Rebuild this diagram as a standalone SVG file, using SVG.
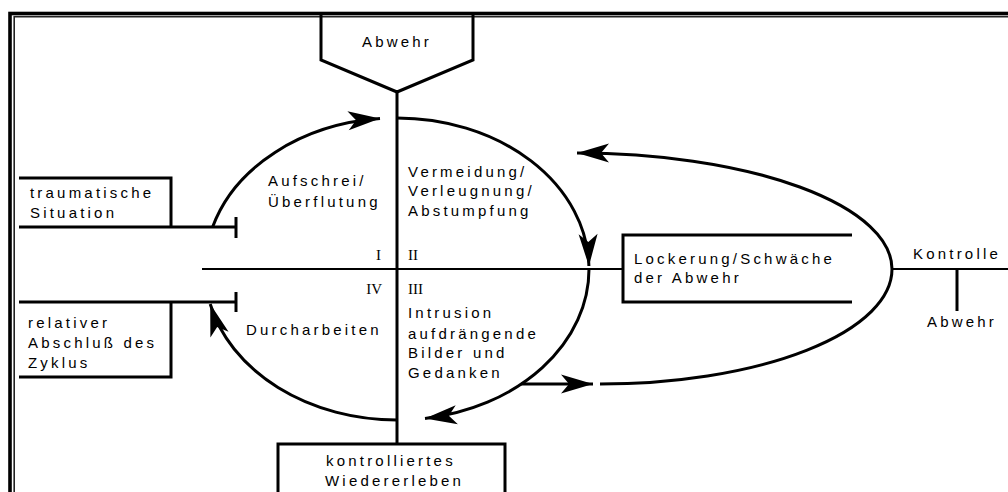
<svg xmlns="http://www.w3.org/2000/svg" width="1008" height="492" viewBox="0 0 1008 492">
  <style>
    .ln { fill: none; stroke: #000; stroke-width: 3; }
    .thin { fill: none; stroke: #000; stroke-width: 2.2; }
    .arr { marker-end: url(#head); }
    .lbl { font-family: "Liberation Sans", Arial, sans-serif; font-size: 15px; letter-spacing: 3.2px; fill: #000; }
    .num { font-family: "Liberation Serif", "Times New Roman", serif; font-size: 15px; fill: #000; }
  </style>
  <defs>
    <marker id="head" markerUnits="userSpaceOnUse" markerWidth="34" markerHeight="22" viewBox="0 0 34 22" refX="32" refY="11" orient="auto" overflow="visible">
      <path d="M32 11 L0 1.5 L8 11 L0 20.5 Z" fill="#000"/>
    </marker>
  </defs>

  <rect width="1008" height="492" fill="#fff"/>

  <!-- double frame, running off the right and bottom edges -->
  <g id="frame">
    <rect x="10" y="13.5" width="1020" height="500" fill="none" stroke="#000" stroke-width="3.6"/>
    <rect x="14.2" y="16.7" width="1010" height="490" fill="none" stroke="#222" stroke-width="1.6"/>
  </g>

  <!-- axes of the cycle -->
  <g id="axes">
    <path class="ln" d="M397 92 V444"/>
    <path class="thin" d="M202 269 H623"/>
  </g>

  <g id="abwehr-top">
    <path class="ln" d="M321 15 V60 L397 92 L473 60 V15"/>
    <text class="lbl" x="397" y="47" text-anchor="middle">Abwehr</text>
  </g>

  <g id="traumatische-situation">
    <path class="ln" d="M19 178 H171 V227"/>
    <path class="ln" d="M19 227 H236"/>
    <path class="ln" d="M236 217 V238"/>
    <text class="lbl" x="30" y="198">traumatische</text>
    <text class="lbl" x="30" y="218">Situation</text>
  </g>

  <g id="relativer-abschluss">
    <path class="ln" d="M19 302 H236"/>
    <path class="ln" d="M236 292 V312"/>
    <path class="ln" d="M171 302 V377 H19"/>
    <text class="lbl" x="28" y="328">relativer</text>
    <text class="lbl" x="28" y="348">Abschluß des</text>
    <text class="lbl" x="28" y="368">Zyklus</text>
  </g>

  <g id="kontrolliertes-wiedererleben">
    <rect class="ln" x="278" y="444" width="227" height="60"/>
    <text class="lbl" x="326" y="466">kontrolliertes</text>
    <text class="lbl" x="325" y="486">Wiedererleben</text>
  </g>

  <g id="lockerung">
    <path class="ln" d="M852 235 H623 V302 H852"/>
    <text class="lbl" x="634" y="264">Lockerung/Schwäche</text>
    <text class="lbl" x="634" y="283">der Abwehr</text>
  </g>

  <g id="kontrolle">
    <path class="thin" d="M892 269 H1008"/>
    <path class="ln" d="M957 269 V311"/>
    <text class="lbl" x="913" y="259">Kontrolle</text>
    <text class="lbl" x="927" y="327">Abwehr</text>
  </g>

  <!-- phase labels -->
  <g id="phases">
    <text class="lbl" x="268" y="186">Aufschrei/</text>
    <text class="lbl" x="268" y="207">Überflutung</text>
    <text class="lbl" x="408" y="177">Vermeidung/</text>
    <text class="lbl" x="408" y="196">Verleugnung/</text>
    <text class="lbl" x="408" y="216">Abstumpfung</text>
    <text class="lbl" x="246" y="335">Durcharbeiten</text>
    <text class="lbl" x="408" y="318">Intrusion</text>
    <text class="lbl" x="408" y="339">aufdrängende</text>
    <text class="lbl" x="408" y="358">Bilder und</text>
    <text class="lbl" x="408" y="378">Gedanken</text>
    <text class="num" x="381" y="260" text-anchor="end">I</text>
    <text class="num" x="408" y="260">II</text>
    <text class="num" x="382" y="294" text-anchor="end">IV</text>
    <text class="num" x="408" y="294">III</text>
  </g>

  <!-- cycle arcs and feedback loop -->
  <g id="connectors">
    <path class="ln arr" d="M212.6 227 A192 151 0 0 1 380 118.6"/>
    <path class="ln arr" d="M396 118 A192 151 0 0 1 588.9 266"/>
    <path class="ln arr" d="M589 269 A192 151 0 0 1 425 418.4"/>
    <path class="ln arr" d="M397 420 A192 151 0 0 1 210.2 304"/>
    <path class="ln arr" d="M521 384 H593"/>
    <path class="ln arr" d="M892 269 A315 116 0 0 0 577 153"/>
    <path class="ln" d="M892 269 A292 115 0 0 1 600 384"/>
  </g>
</svg>
